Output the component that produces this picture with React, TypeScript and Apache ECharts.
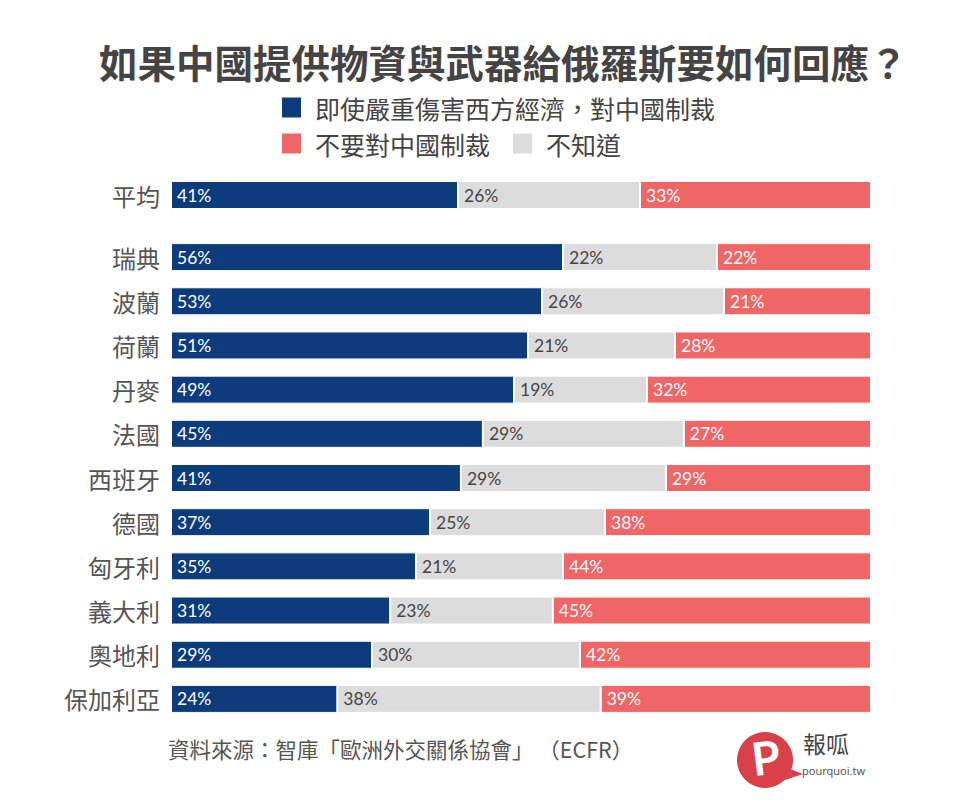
import React, { useEffect, useRef } from "react";
import * as echarts from "echarts";

const TITLE = "如果中國提供物資與武器給俄羅斯要如何回應？";
const SOURCE = "資料來源：智庫「歐洲外交關係協會」 （ECFR）";
const SERIES_NAMES = ["即使嚴重傷害西方經濟，對中國制裁", "不知道", "不要對中國制裁"];
const COLORS = ["#0c3c7c", "#dcdcdc", "#f06666"];
const LABEL_COLORS = ["#ffffff", "#444444", "#ffffff"];

const avgCategory = ["平均"];
const avgSanction = [41];
const avgDontKnow = [26];
const avgNoSanction = [33];

const countries = ["瑞典", "波蘭", "荷蘭", "丹麥", "法國", "西班牙", "德國", "匈牙利", "義大利", "奧地利", "保加利亞"];
const sanction = [56, 53, 51, 49, 45, 41, 37, 35, 31, 29, 24];
const dontKnow = [22, 26, 21, 19, 29, 29, 25, 21, 23, 30, 38];
const noSanction = [22, 21, 28, 32, 27, 29, 38, 44, 45, 42, 39];

const CJK = "'Noto Sans CJK TC', 'Noto Sans', sans-serif";

function buildSeries(groups: number[][], axisIndex: number, stack: string) {
  const totals = groups[0].map((_, i) => groups.reduce((s, g) => s + g[i], 0));
  return groups.map((g, k) => ({
    name: SERIES_NAMES[k],
    type: "bar",
    stack,
    xAxisIndex: axisIndex,
    yAxisIndex: axisIndex,
    barWidth: 28,
    itemStyle: { color: COLORS[k], borderColor: "#ffffff", borderWidth: 1 },
    label: {
      show: true,
      position: "insideLeft",
      distance: 6,
      color: LABEL_COLORS[k],
      fontFamily: "Lato, 'Noto Sans', sans-serif",
      fontSize: 17.5,
      formatter: (p: any) => p.data.raw + "%",
    },
    emphasis: { disabled: true },
    data: g.map((v, i) => ({ value: (v / totals[i]) * 100, raw: v })),
  }));
}

export default function App() {
  const ref = useRef<HTMLDivElement>(null);
  useEffect(() => {
    if (!ref.current) return;
    const chart = echarts.init(ref.current, undefined, { renderer: "svg" });
    const xAxisBase = { type: "value", min: 0, max: 100, show: false };
    const yAxisBase = {
      type: "category",
      inverse: true,
      axisLine: { show: false },
      axisTick: { show: false },
      axisLabel: { color: "#555555", fontSize: 24, fontFamily: CJK, margin: 11 },
    };
    const legendText = { fontSize: 25, color: "#444444", fontFamily: CJK, padding: [0, 0, 0, 8] };
    chart.setOption({
      animation: false,
      backgroundColor: "#ffffff",
      title: {
        text: TITLE,
        left: 94,
        top: 37,
        textStyle: { fontSize: 38.5, fontWeight: "bold", color: "#444444", fontFamily: CJK },
      },
      legend: [
        {
          data: [SERIES_NAMES[0]],
          left: 275,
          top: 90,
          icon: "rect",
          itemWidth: 21,
          itemHeight: 22,
          textStyle: legendText,
          selectedMode: false,
        },
        {
          data: [SERIES_NAMES[2], SERIES_NAMES[1]],
          left: 275,
          top: 126,
          icon: "rect",
          itemWidth: 21,
          itemHeight: 22,
          itemGap: 21,
          textStyle: legendText,
          selectedMode: false,
        },
      ],
      grid: [
        { left: 171, width: 700, top: 173, height: 44 },
        { left: 171, width: 700, top: 235, height: 486 },
      ],
      xAxis: [
        { ...xAxisBase, gridIndex: 0 },
        { ...xAxisBase, gridIndex: 1 },
      ],
      yAxis: [
        { ...yAxisBase, gridIndex: 0, data: avgCategory },
        { ...yAxisBase, gridIndex: 1, data: countries },
      ],
      series: [
        ...buildSeries([avgSanction, avgDontKnow, avgNoSanction], 0, "avg"),
        ...buildSeries([sanction, dontKnow, noSanction], 1, "cty"),
      ],
      graphic: [
        {
          type: "text",
          left: 168,
          top: 738,
          style: { text: SOURCE, fontSize: 21.5, fill: "#555555", fontFamily: CJK },
        },
        {
          type: "group",
          left: 737,
          top: 732,
          children: [
            { type: "polygon", shape: { points: [[45, 34], [66, 42], [48, 48]] }, style: { fill: "#d9404a" } },
            { type: "circle", shape: { cx: 28, cy: 28, r: 28 }, style: { fill: "#d9404a" } },
            {
              type: "text",
              x: 12,
              y: 4,
              rotation: 0.12,
              style: { text: "P", fontSize: 46, fontWeight: "bold", fill: "#ffffff", fontFamily: "Lato, sans-serif" },
            },
          ],
        },
        {
          type: "text",
          left: 803,
          top: 731,
          style: { text: "報呱", fontSize: 23, fill: "#444444", fontFamily: CJK },
        },
        {
          type: "text",
          left: 802,
          top: 765,
          style: { text: "pourquoi.tw", fontSize: 11, fill: "#555555", fontFamily: "'Noto Sans', sans-serif" },
        },
      ],
    });
    return () => chart.dispose();
  }, []);
  return <div ref={ref} style={{ position: "absolute", left: 0, top: 0, width: 960, height: 804 }} />;
}
